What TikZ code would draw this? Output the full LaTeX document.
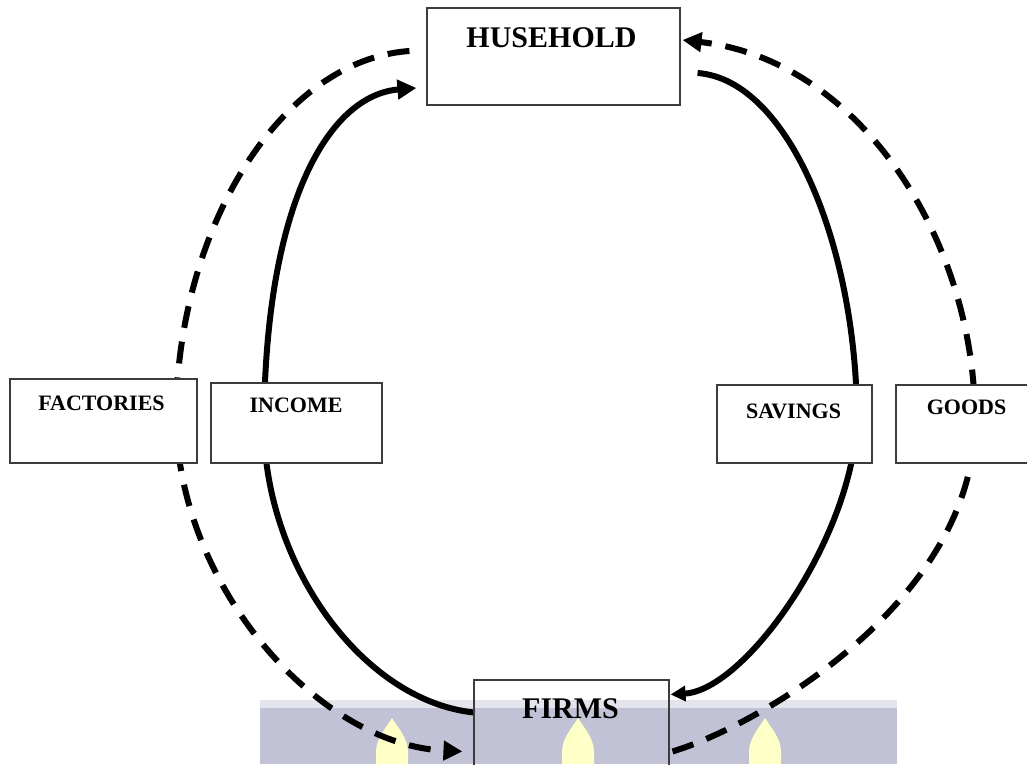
\documentclass[tikz,border=0pt]{standalone}
\usepackage{fontspec}
\setmainfont{Liberation Serif}
\usetikzlibrary{arrows.meta}
\definecolor{bandcol}{RGB}{194,194,214}
\definecolor{bandtop}{RGB}{228,228,236}
\definecolor{dropcol}{RGB}{255,255,200}
\definecolor{boxline}{RGB}{60,60,60}
\pgfdeclarelayer{bg}
\pgfsetlayers{bg,main}
\tikzset{
 box/.style={draw=boxline, line width=1.1pt, fill=white, inner sep=0pt},
 bigtxt/.style={font=\bfseries\fontsize{30}{34}\selectfont, anchor=base, inner sep=0pt},
 smalltxt/.style={font=\bfseries\fontsize{22}{26}\selectfont, anchor=base, inner sep=0pt},
 flow/.style={line width=6pt, draw=black},
 dflow/.style={flow, dash pattern=on 22pt off 14pt},
 tip/.style={-{Triangle[length=19pt,width=19pt]}},
 smalltip/.style={-{Triangle[length=15pt,width=15pt]}}
}
\begin{document}
\begin{tikzpicture}[x=1pt,y=1pt]
\useasboundingbox (0,0) rectangle (1027,-764);
\clip (0,0) rectangle (1027,-764);
% boxes
\node[box, minimum width=253pt, minimum height=97pt] (hh) at (553.5,-56.5) {};
\node[bigtxt] (hht) at (551.5,-47) {HUSEHOLD};
\node[box, minimum width=187pt, minimum height=84pt] (fac) at (103.5,-421) {};
\node[smalltxt] (fact) at (101.5,-410) {FACTORIES};
\node[box, minimum width=171pt, minimum height=80pt] (inc) at (296.5,-423) {};
\node[smalltxt] (inct) at (296,-412) {INCOME};
\node[box, minimum width=155pt, minimum height=78pt] (sav) at (794.5,-424) {};
\node[smalltxt] (savt) at (793.5,-418) {SAVINGS};
\node[box, minimum width=141pt, minimum height=78pt] (goo) at (966.5,-424) {};
\node[smalltxt] (goot) at (966.5,-414) {GOODS};
\node[box, fill=none, minimum width=195pt, minimum height=100pt] (firms) at (571.5,-730) {};
\node[bigtxt] (firmst) at (570.5,-718) {FIRMS};
\begin{pgfonlayer}{bg}
% watermark band
\fill[bandcol] (260,-700) rectangle (897,-764);
\fill[bandtop] (260,-700) rectangle (897,-708);
\foreach \cx in {392,578,765}
  \fill[dropcol] (\cx,-718) .. controls (\cx+6,-728) and (\cx+16,-738) .. (\cx+16,-752)
    -- (\cx+16,-764) -- (\cx-16,-764) -- (\cx-16,-752)
    .. controls (\cx-16,-738) and (\cx-6,-728) .. (\cx,-718);
% income
\draw[flow, tip] ([yshift=-33pt]firms.north west) .. controls (360,-700) and (262,-560) .. (264,-420)
   .. controls (266,-200) and (330,-95) .. ([shift={(-10,-31.5)}]hh.west);
% savings
\draw[flow, smalltip] ([shift={(17,-16.5)}]hh.east) .. controls (790,-80) and (857,-250) .. (857,-420)
   .. controls (852,-540) and (745,-690) .. ([shift={(1,-15)}]firms.north east);
% factories
\draw[dflow, tip] ([shift={(-17,5.5)}]hh.west) .. controls (280,-60) and (176,-230) .. (176,-420)
   .. controls (180,-590) and (320,-745) .. ([shift={(-11,-72)}]firms.north west);
% goods
\draw[dflow, tip] ([shift={(3,-72)}]firms.north east) .. controls (760,-725) and (975,-600) .. (975,-420)
   .. controls (975,-240) and (860,-60) .. ([shift={(2,16.5)}]hh.east);
\end{pgfonlayer}
\end{tikzpicture}
\end{document}
